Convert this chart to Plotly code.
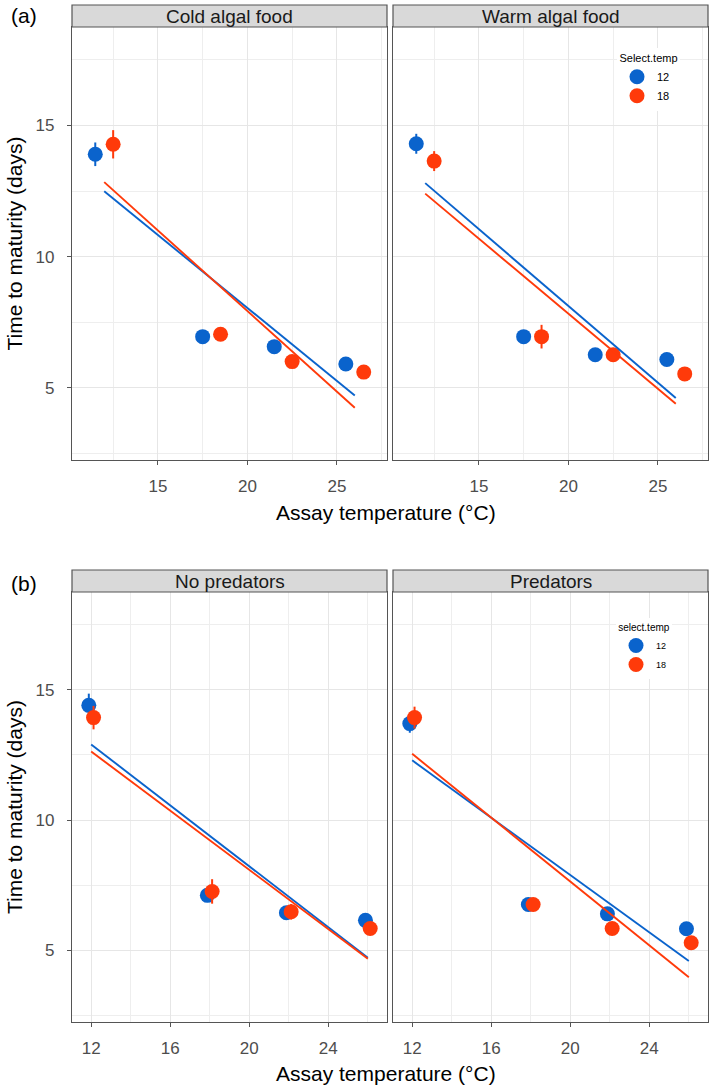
import plotly.graph_objects as go

# ---------------- data ----------------
assay_temp = [12, 18, 22, 26]
fit_x = [12, 26]

# (a) Cold algal food
cold_12 = [13.90, 6.95, 6.57, 5.91]
cold_12_err = [0.45, 0.18, 0.18, 0.18]
cold_18 = [14.28, 7.04, 6.00, 5.60]
cold_18_err = [0.54, 0.18, 0.18, 0.18]
cold_fit_12 = [12.49, 4.71]
cold_fit_18 = [12.84, 4.24]

# (a) Warm algal food
warm_12 = [14.30, 6.95, 6.26, 6.08]
warm_12_err = [0.38, 0.18, 0.18, 0.18]
warm_18 = [13.64, 6.95, 6.26, 5.53]
warm_18_err = [0.38, 0.45, 0.18, 0.18]
warm_fit_12 = [12.80, 4.61]
warm_fit_18 = [12.40, 4.39]

# (b) No predators
nopred_12 = [14.40, 7.11, 6.44, 6.15]
nopred_12_err = [0.45, 0.18, 0.18, 0.18]
nopred_18 = [13.93, 7.26, 6.48, 5.84]
nopred_18_err = [0.45, 0.47, 0.30, 0.18]
nopred_fit_12 = [12.90, 4.72]
nopred_fit_18 = [12.63, 4.68]

# (b) Predators
pred_12 = [13.70, 6.76, 6.40, 5.83]
pred_12_err = [0.35, 0.18, 0.18, 0.18]
pred_18 = [13.93, 6.76, 5.84, 5.29]
pred_18_err = [0.42, 0.18, 0.18, 0.18]
pred_fit_12 = [12.29, 4.59]
pred_fit_18 = [12.54, 3.97]

panel_titles = ["Cold algal food", "Warm algal food", "No predators", "Predators"]
legend_titles = ["Select.temp", "select.temp"]
series_names = ["12", "18"]

BLUE = "#0a63cc"
RED = "#ff3a0a"

W, H = 709, 1088


def px(x):
    return x / W


def py(y):
    return 1 - y / H


# panel geometry (pixels)
XL = (72, 387)
XR = (393, 708)
TOP = (27, 460)
BOT = (592, 1022)
STRIP_TOP = (5, 27)
STRIP_BOT = (570, 592)

fig = go.Figure()

panels = [
    (cold_12, cold_12_err, cold_18, cold_18_err, cold_fit_12, cold_fit_18, 0.5, "", None),
    (warm_12, warm_12_err, warm_18, warm_18_err, warm_fit_12, warm_fit_18, 0.5, "2", "legend"),
    (nopred_12, nopred_12_err, nopred_18, nopred_18_err, nopred_fit_12, nopred_fit_18, 0.12, "3", None),
    (pred_12, pred_12_err, pred_18, pred_18_err, pred_fit_12, pred_fit_18, 0.12, "4", "legend2"),
]

for (m12, e12, m18, e18, f12, f18, dodge, sfx, leg) in panels:
    xa = "x" + sfx
    ya = "y" + sfx
    for mean, err, col, name, d in [(m12, e12, BLUE, series_names[0], -dodge),
                                     (m18, e18, RED, series_names[1], dodge)]:
        fig.add_trace(go.Scatter(
            x=[t + d for t in assay_temp], y=mean, mode="markers",
            marker=dict(size=15, color=col),
            error_y=dict(type="data", array=err, visible=True, color=col,
                         thickness=2, width=0),
            name=name, xaxis=xa, yaxis=ya,
            showlegend=leg is not None, legend=leg if leg else "legend",
        ))
    for fit, col in [(f12, BLUE), (f18, RED)]:
        fig.add_trace(go.Scatter(
            x=fit_x, y=fit, mode="lines", line=dict(color=col, width=1.9),
            xaxis=xa, yaxis=ya, showlegend=False, hoverinfo="skip",
        ))

grid_major = "#e6e6e6"
grid_minor = "#eeeeee"
border = "#555555"
FONT = "Liberation Sans, Arial, sans-serif"
tickfont = dict(family=FONT, size=17, color="#4d4d4d")


def xaxis_cfg(dom, rng, dtick, minor_dtick, anchor):
    return dict(
        domain=[px(dom[0]), px(dom[1])], range=rng, anchor=anchor,
        tickmode="linear", tick0=0, dtick=dtick,
        showgrid=True, gridcolor=grid_major, gridwidth=1,
        minor=dict(dtick=minor_dtick, tick0=0, showgrid=True, gridcolor=grid_minor, gridwidth=0.7),
        zeroline=False, showline=True, mirror=True, linecolor=border, linewidth=1.2,
        ticks="outside", ticklen=4, tickcolor=border, tickfont=tickfont,
        ticklabelstandoff=6,
    )


def yaxis_cfg(dom, anchor, labels):
    return dict(
        domain=[py(dom[1]), py(dom[0])], range=[2.25, 18.75], anchor=anchor,
        tickmode="linear", tick0=0, dtick=5,
        showgrid=True, gridcolor=grid_major, gridwidth=1,
        minor=dict(dtick=2.5, tick0=0, showgrid=True, gridcolor=grid_minor, gridwidth=0.7),
        zeroline=False, showline=True, mirror=True, linecolor=border, linewidth=1.2,
        ticks="outside" if labels else "", ticklen=4, tickcolor=border,
        showticklabels=labels, tickfont=tickfont, ticklabelstandoff=9,
    )


top_xr = [10.2, 27.8]
bot_xr = [11.03, 26.97]

fig.update_layout(
    width=W, height=H,
    margin=dict(l=0, r=0, t=0, b=0),
    paper_bgcolor="white", plot_bgcolor="white",
    font=dict(family=FONT, color="black"),
    xaxis=xaxis_cfg(XL, top_xr, 5, 2.5, "y"),
    xaxis2=xaxis_cfg(XR, top_xr, 5, 2.5, "y2"),
    xaxis3=xaxis_cfg(XL, bot_xr, 4, 2, "y3"),
    xaxis4=xaxis_cfg(XR, bot_xr, 4, 2, "y4"),
    yaxis=yaxis_cfg(TOP, "x", True),
    yaxis2=yaxis_cfg(TOP, "x2", False),
    yaxis3=yaxis_cfg(BOT, "x3", True),
    yaxis4=yaxis_cfg(BOT, "x4", False),
    legend=dict(
        x=px(617), y=py(48), xanchor="left", yanchor="top",
        bgcolor="white", font=dict(size=11),
        title=dict(text=legend_titles[0], font=dict(size=11), side="top center"),
        tracegroupgap=0, itemwidth=30,
    ),
    legend2=dict(
        x=px(616), y=py(618), xanchor="left", yanchor="top",
        bgcolor="white", font=dict(size=9),
        title=dict(text=legend_titles[1], font=dict(size=10), side="top center"),
        tracegroupgap=0, itemwidth=30,
    ),
    hovermode=False,
)

shapes = []
annotations = []
strip_specs = [
    (XL, STRIP_TOP, panel_titles[0]),
    (XR, STRIP_TOP, panel_titles[1]),
    (XL, STRIP_BOT, panel_titles[2]),
    (XR, STRIP_BOT, panel_titles[3]),
]
for (xs, ys, txt) in strip_specs:
    shapes.append(dict(type="rect", xref="paper", yref="paper",
                       x0=px(xs[0]), x1=px(xs[1]), y0=py(ys[1]), y1=py(ys[0]),
                       fillcolor="#d9d9d9", line=dict(color=border, width=1.2), layer="above"))
    annotations.append(dict(text=txt, xref="paper", yref="paper",
                            x=px((xs[0] + xs[1]) / 2), y=py((ys[0] + ys[1]) / 2 + 0.5),
                            xanchor="center", yanchor="middle", showarrow=False,
                            font=dict(size=19, color="#1a1a1a")))

title_font = dict(size=21, color="black")
for (ycen, lab, lab_y, xt_y) in [((TOP[0] + TOP[1]) / 2, "(a)", 15, 512),
                                 ((BOT[0] + BOT[1]) / 2, "(b)", 583, 1073)]:
    annotations.append(dict(text="Time to maturity (days)", xref="paper", yref="paper",
                            x=px(14), y=py(ycen), textangle=-90, showarrow=False,
                            xanchor="center", yanchor="middle", font=title_font))
    annotations.append(dict(text="Assay temperature (°C)", xref="paper", yref="paper",
                            x=px(386), y=py(xt_y), showarrow=False,
                            xanchor="center", yanchor="middle", font=title_font))
    annotations.append(dict(text=lab, xref="paper", yref="paper",
                            x=px(24), y=py(lab_y), showarrow=False,
                            xanchor="center", yanchor="middle", font=dict(size=21, color="black")))

fig.update_layout(shapes=shapes, annotations=annotations)

fig.write_html("out.html", config={"displayModeBar": False},
               post_script="document.body.style.margin='0';")
